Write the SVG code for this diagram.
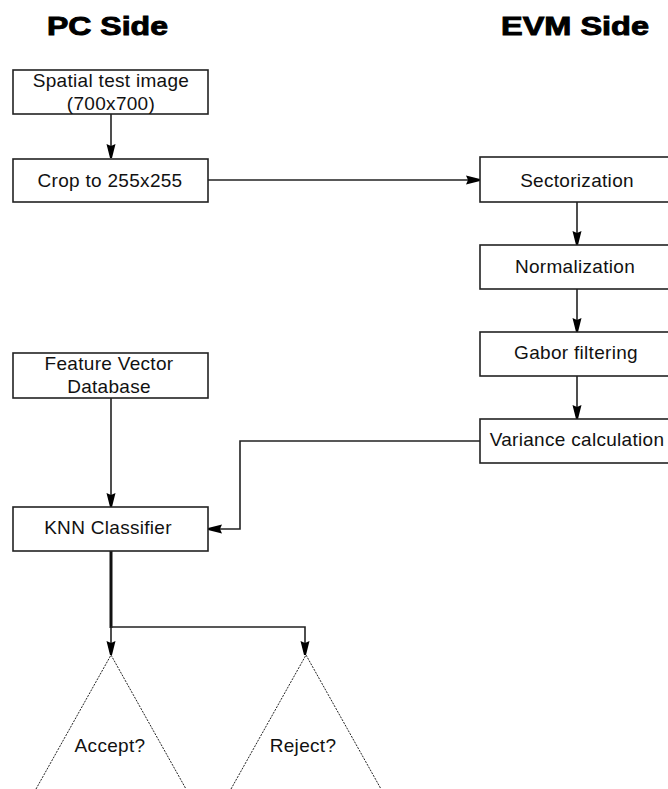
<svg xmlns="http://www.w3.org/2000/svg" width="668" height="789" viewBox="0 0 668 789">
<style>
.box{fill:#fff;stroke:#222;stroke-width:1.6}
.t{font-family:"Liberation Sans",Arial,sans-serif;font-size:19px;fill:#111;text-anchor:middle;letter-spacing:0.3px}
.h{font-family:"Liberation Sans",Arial,sans-serif;font-size:25px;font-weight:bold;fill:#000;stroke:#000;stroke-width:0.9;text-anchor:middle}
.c{fill:none;stroke:#222;stroke-width:1.6}
.tri{fill:none;stroke:#222;stroke-width:1;stroke-dasharray:2,1.2}
</style>
<defs>
<marker id="ah" markerUnits="userSpaceOnUse" viewBox="0 0 14 10" refX="14" refY="5" markerWidth="14" markerHeight="10" orient="auto">
<path d="M0,0.5 L14,4 L14,6 L0,9.5 L2,5 Z" fill="#000"/>
</marker>
</defs>
<rect width="668" height="789" fill="#fff"/>
<text class="h" x="107.5" y="35" textLength="121" lengthAdjust="spacingAndGlyphs">PC Side</text>
<text class="h" x="575" y="35" textLength="148" lengthAdjust="spacingAndGlyphs">EVM Side</text>

<g id="connectors">
<path class="c" d="M111,114 L111,158" marker-end="url(#ah)"/>
<path class="c" d="M208,180 L480,180" marker-end="url(#ah)"/>
<path class="c" d="M577,202 L577,245" marker-end="url(#ah)"/>
<path class="c" d="M577,289 L577,332" marker-end="url(#ah)"/>
<path class="c" d="M577,376 L577,419" marker-end="url(#ah)"/>
<path class="c" d="M111,398 L111,507" marker-end="url(#ah)"/>
<path class="c" d="M480,441 L240,441 L240,529 L208,529" marker-end="url(#ah)"/>
<path fill="none" stroke="#111" stroke-width="3" d="M111,551 L111,628"/>
<path class="c" d="M111,627 L111,655" marker-end="url(#ah)"/>
<path class="c" d="M111,627 L305,627 L305,655" marker-end="url(#ah)"/>
</g>

<g id="n1"><rect class="box" x="13" y="70" width="195" height="44"/>
<text class="t" x="111" y="87">Spatial test image</text>
<text class="t" x="111" y="110">(700x700)</text></g>
<g id="n2"><rect class="box" x="13" y="159" width="195" height="43"/>
<text class="t" x="110" y="187">Crop to 255x255</text></g>
<g id="n3"><rect class="box" x="480" y="157" width="200" height="45"/>
<text class="t" x="577" y="187">Sectorization</text></g>
<g id="n4"><rect class="box" x="480" y="245" width="200" height="44"/>
<text class="t" x="575" y="273">Normalization</text></g>
<g id="n5"><rect class="box" x="480" y="332" width="200" height="44"/>
<text class="t" x="576" y="359">Gabor filtering</text></g>
<g id="n6"><rect class="box" x="480" y="419" width="200" height="44"/>
<text class="t" x="577" y="446">Variance calculation</text></g>
<g id="n7"><rect class="box" x="13" y="353" width="195" height="45"/>
<text class="t" x="109" y="370">Feature Vector</text>
<text class="t" x="109" y="393">Database</text></g>
<g id="n8"><rect class="box" x="13" y="507" width="195" height="44"/>
<text class="t" x="108" y="534">KNN Classifier</text></g>
<g id="n9"><path class="tri" d="M36,789 L111,655 L186,789"/>
<text class="t" x="110" y="752">Accept?</text></g>
<g id="n10"><path class="tri" d="M231,789 L306,655 L381,789"/>
<text class="t" x="303" y="752">Reject?</text></g>
</svg>
